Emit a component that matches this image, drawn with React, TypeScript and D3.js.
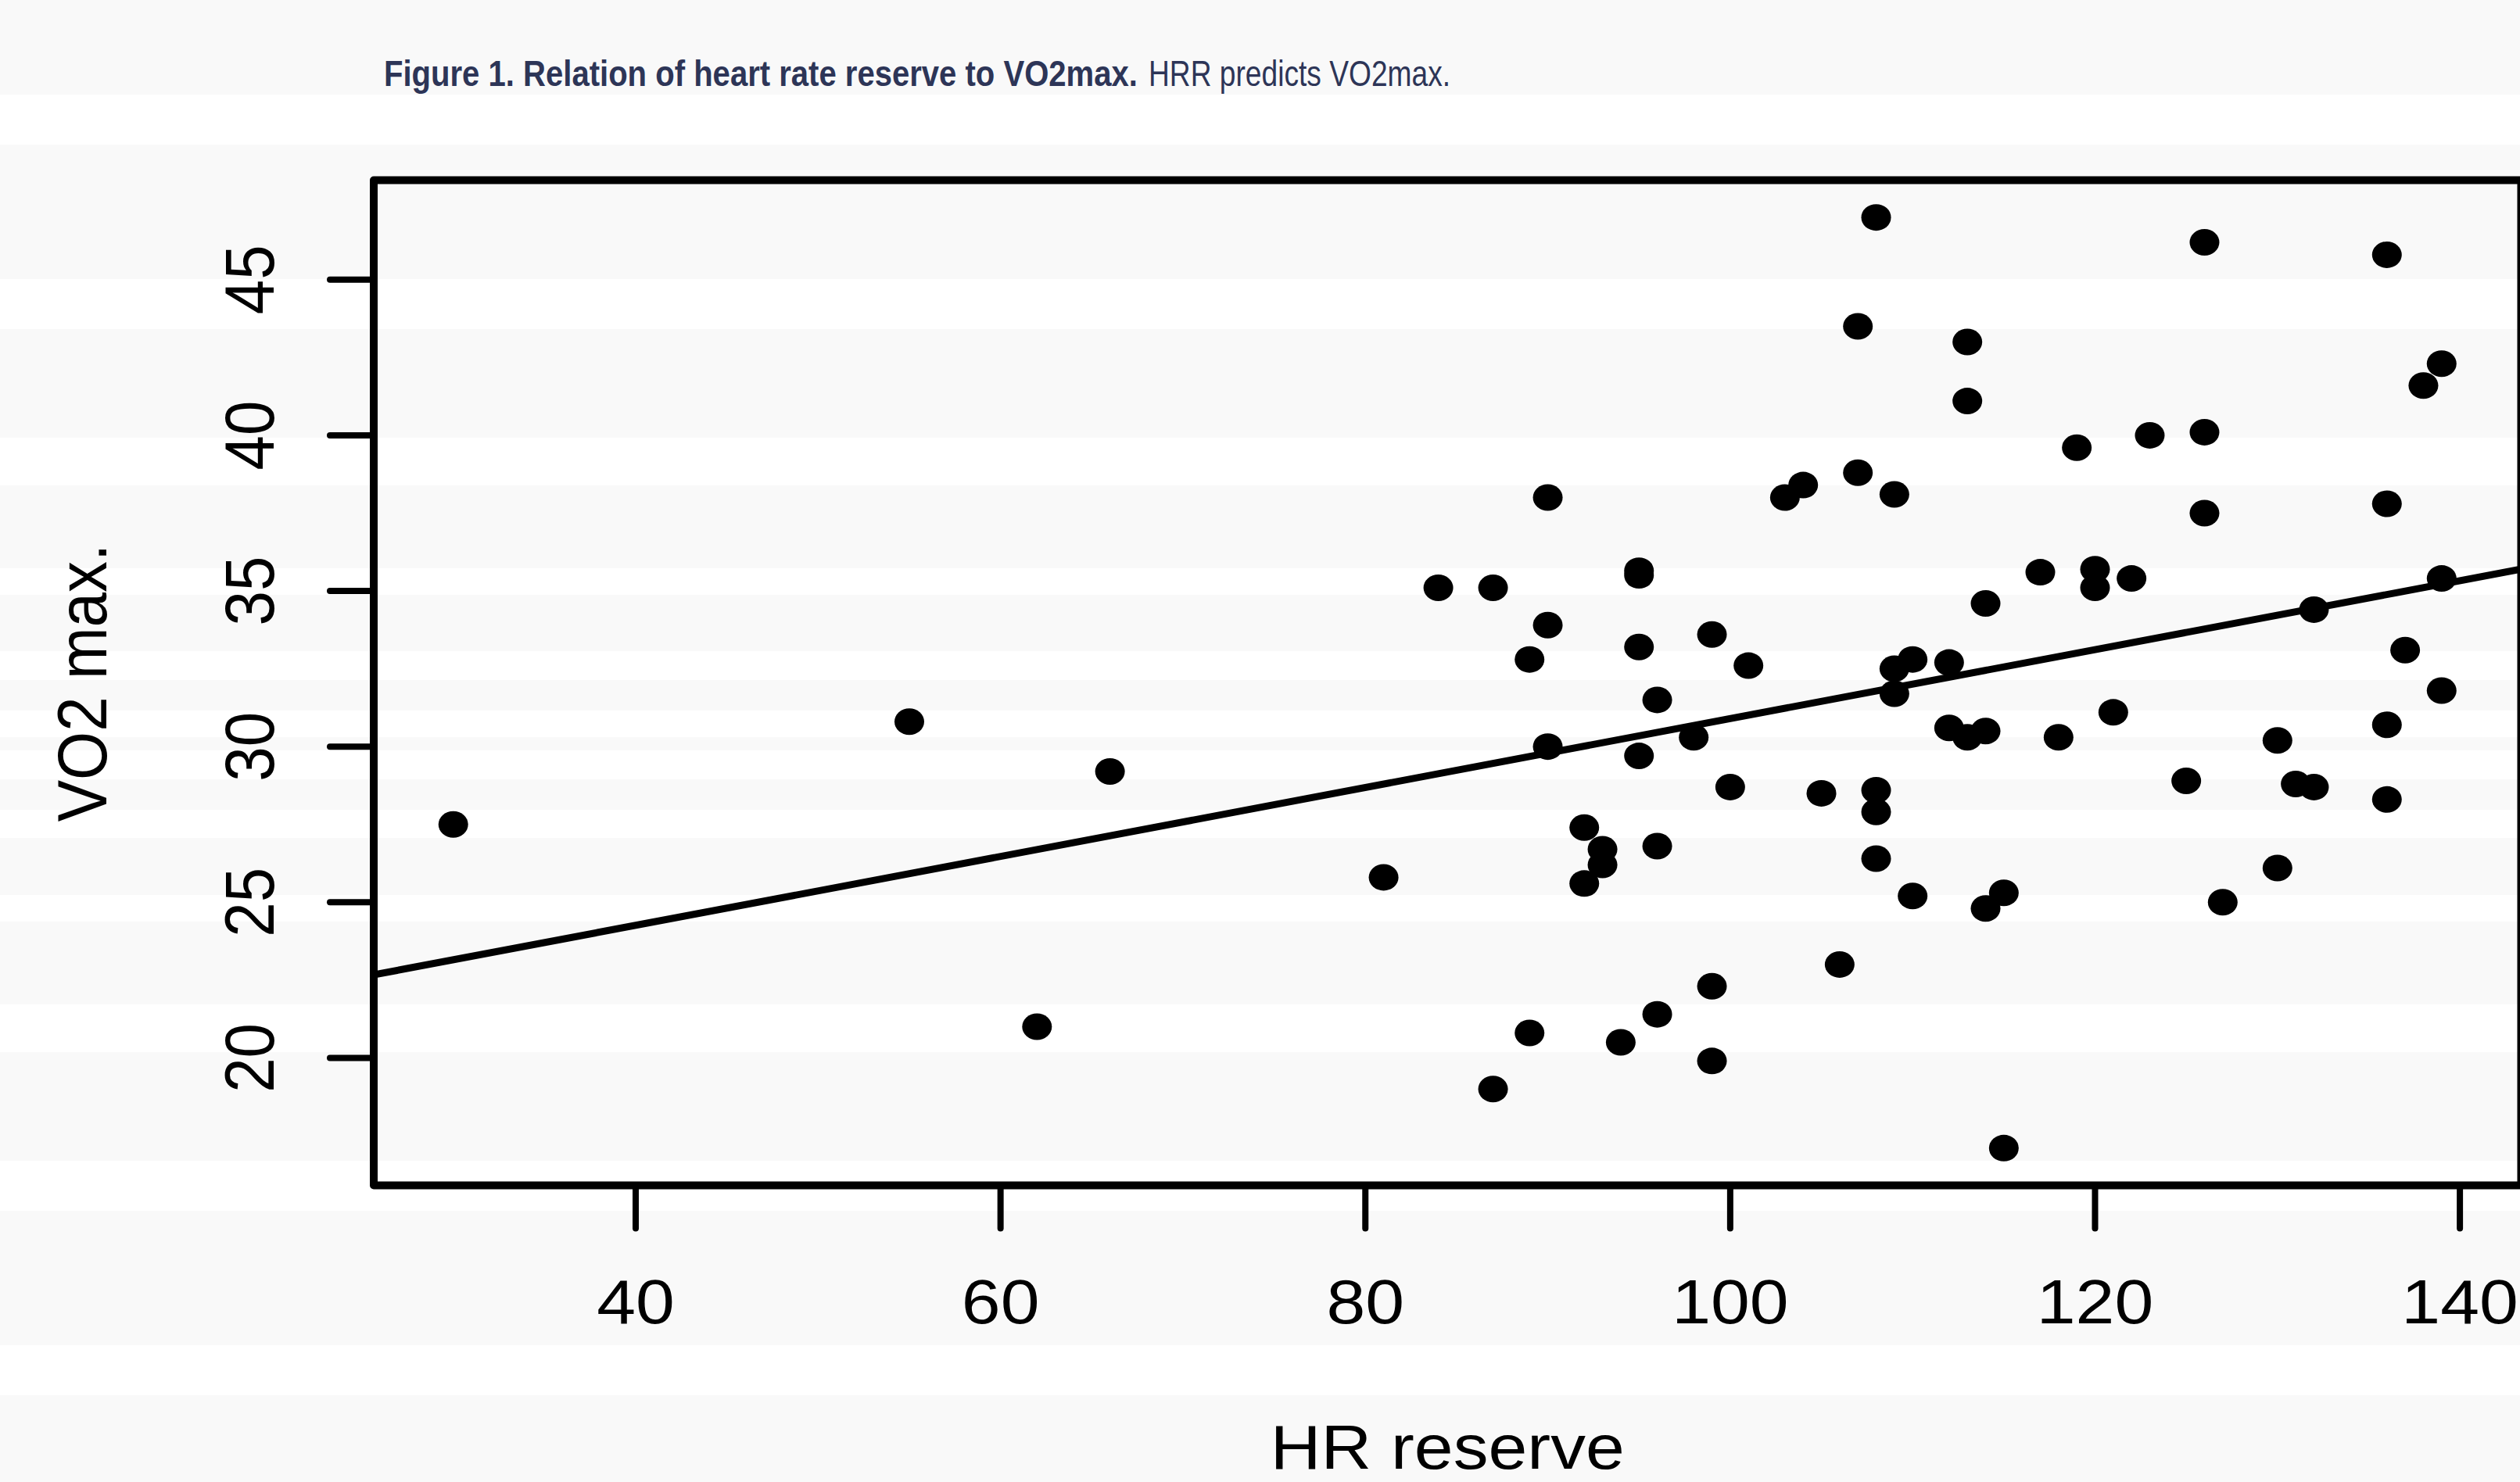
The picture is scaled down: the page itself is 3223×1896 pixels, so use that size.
import React, { useLayoutEffect, useRef, useState } from "react";
import * as d3 from "d3";

// Data
const hrReserve = [
  30, 55, 62, 66, 81, 84, 87, 87, 89, 89, 90, 90, 90, 92, 92, 93, 93, 94, 95, 95,
  95, 95, 96, 96, 96, 98, 99, 99, 99, 100, 101, 103, 104, 105, 106, 107, 107, 108, 108, 108,
  108, 109, 109, 109, 110, 110, 112, 112, 113, 113, 113, 114, 114, 114, 115, 115, 117, 118, 119, 120,
  120, 121, 122, 123, 125, 126, 126, 126, 127, 130, 130, 131, 132, 132, 136, 136, 136, 136, 137, 138,
  139, 139, 139,
];
const vo2max = [
  27.5, 30.8, 21.0, 29.2, 25.8, 35.1, 35.1, 19.0, 32.8, 20.8, 38.0, 33.9, 30.0, 27.4, 25.6, 26.7, 26.2, 20.5, 35.5, 35.65,
  33.2, 29.7, 31.5, 26.8, 21.4, 30.3, 33.6, 22.3, 19.9, 28.7, 32.6, 38.0, 38.4, 28.5, 23.0, 43.5, 38.8, 47.0, 28.6, 27.9,
  26.4, 38.1, 32.5, 31.7, 32.8, 25.2, 32.7, 30.6, 43.0, 41.1, 30.3, 34.6, 30.5, 24.8, 25.3, 17.1, 35.6, 30.3, 39.6, 35.7,
  35.1, 31.1, 35.4, 40.0, 28.9, 46.2, 40.1, 37.5, 25.0, 30.2, 26.1, 28.8, 34.4, 28.7, 45.8, 37.8, 30.7, 28.3, 33.1, 41.6,
  42.3, 35.4, 31.8,
];
const xTicks = [40, 60, 80, 100, 120, 140];
const yTicks = [20, 25, 30, 35, 40, 45];
const fitIntercept = 19.83;
const fitSlope = 0.1107;

const titleBold = "Figure 1. Relation of heart rate reserve to VO2max.";
const titleRegular = "HRR predicts VO2max.";
const xLabel = "HR reserve";
const yLabel = "VO2 max.";

// Background bands (light grey stripes of the page)
const bands: [number, number][] = [
  [0, 121], [185, 357], [421, 560], [621, 727], [761, 833], [870, 909], [943, 960],
  [997, 1036], [1072, 1145], [1179, 1285], [1346, 1485], [1549, 1721], [1785, 1896],
];

const W = 3223;
const H = 1896;
const plot = { left: 478, right: 3224.5, top: 230.5, bottom: 1516.5 };
const SX = 1.12; // horizontal stretch of the picture
const FONT = "'Liberation Sans', Arial, Helvetica, sans-serif";
const TFONT = "'Liberation Sans Narrow', 'Liberation Sans', Arial, sans-serif";
const titleBoldBox = { x: 491, w: 964 };
const titleRegBox = { x: 1469, w: 386 };

function pad(ext: [number, number]): [number, number] {
  const r = ext[1] - ext[0];
  return [ext[0] - 0.04 * r, ext[1] + 0.04 * r];
}

export default function App() {
  const boldRef = useRef<SVGTextElement>(null);
  const regRef = useRef<SVGTextElement>(null);
  const [scales, setScales] = useState<[number, number]>([0.8, 0.8]);

  useLayoutEffect(() => {
    const b = boldRef.current ? boldRef.current.getComputedTextLength() : 0;
    const r = regRef.current ? regRef.current.getComputedTextLength() : 0;
    if (b > 0 && r > 0) setScales([titleBoldBox.w / b, titleRegBox.w / r]);
  }, []);

  const xDom = pad(d3.extent(hrReserve) as [number, number]);
  const yDom = pad(d3.extent(vo2max) as [number, number]);
  const x = d3.scaleLinear().domain(xDom).range([plot.left, plot.right]);
  const y = d3.scaleLinear().domain(yDom).range([plot.bottom, plot.top]);

  const line = d3
    .line<number>()
    .x((v) => x(v))
    .y((v) => y(fitIntercept + fitSlope * v));

  const pts = hrReserve.map((h, i) => ({ h, v: vo2max[i] }));

  return (
    <svg
      width={W}
      height={H}
      style={{ position: "absolute", left: 0, top: 0, display: "block" }}
      xmlns="http://www.w3.org/2000/svg"
    >
      <rect x={0} y={0} width={W} height={H} fill="#ffffff" />
      {bands.map(([a, b], i) => (
        <rect key={i} x={0} y={a} width={W} height={b - a} fill="#f9f9f9" />
      ))}

      {/* Title */}
      <g transform={`translate(${titleBoldBox.x},110) scale(${scales[0]},1)`}>
        <text ref={boldRef} x={0} y={0} fontFamily={TFONT} fontWeight="bold" fontSize={47} fill="#2d3557">
          {titleBold}
        </text>
      </g>
      <g transform={`translate(${titleRegBox.x},110) scale(${scales[1]},1)`}>
        <text ref={regRef} x={0} y={0} fontFamily={TFONT} fontSize={47} fill="#2d3557">
          {titleRegular}
        </text>
      </g>

      {/* Points */}
      {pts.map((p, i) => (
        <ellipse key={i} cx={x(p.h)} cy={y(p.v)} rx={19} ry={17} fill="#000" />
      ))}

      {/* Regression line */}
      <defs>
        <clipPath id="plotclip">
          <rect x={plot.left} y={plot.top} width={plot.right - plot.left} height={plot.bottom - plot.top} />
        </clipPath>
      </defs>
      <path
        d={line(xDom) || ""}
        stroke="#000"
        strokeWidth={9}
        fill="none"
        clipPath="url(#plotclip)"
      />

      {/* Box */}
      <rect
        x={plot.left}
        y={plot.top}
        width={plot.right - plot.left}
        height={plot.bottom - plot.top}
        fill="none"
        stroke="#000"
        strokeWidth={10}
        strokeLinejoin="round"
      />

      {/* X axis ticks */}
      {xTicks.map((t) => (
        <g key={t}>
          <line
            x1={x(t)}
            x2={x(t)}
            y1={plot.bottom}
            y2={plot.bottom + 55}
            stroke="#000"
            strokeWidth={8}
            strokeLinecap="round"
          />
          <g transform={`translate(${x(t)},1693) scale(${SX},1)`}>
            <text x={0} y={0} textAnchor="middle" fontFamily={FONT} fontSize={80} fill="#000">
              {t}
            </text>
          </g>
        </g>
      ))}

      {/* Y axis ticks */}
      {yTicks.map((t) => (
        <g key={t}>
          <line
            x1={plot.left}
            x2={plot.left - 56}
            y1={y(t)}
            y2={y(t)}
            stroke="#000"
            strokeWidth={8}
            strokeLinecap="round"
          />
          <g transform={`translate(350,${y(t)}) scale(${SX},1) rotate(-90)`}>
            <text x={0} y={0} textAnchor="middle" fontFamily={FONT} fontSize={80} fill="#000">
              {t}
            </text>
          </g>
        </g>
      ))}

      {/* Axis labels */}
      <g transform={`translate(${(plot.left + plot.right) / 2},1879) scale(${SX},1)`}>
        <text x={0} y={0} textAnchor="middle" fontFamily={FONT} fontSize={80} fill="#000">
          {xLabel}
        </text>
      </g>
      <g transform={`translate(136,${(plot.top + plot.bottom) / 2}) scale(${SX},1) rotate(-90)`}>
        <text x={0} y={0} textAnchor="middle" fontFamily={FONT} fontSize={80} fill="#000">
          {yLabel}
        </text>
      </g>
    </svg>
  );
}
